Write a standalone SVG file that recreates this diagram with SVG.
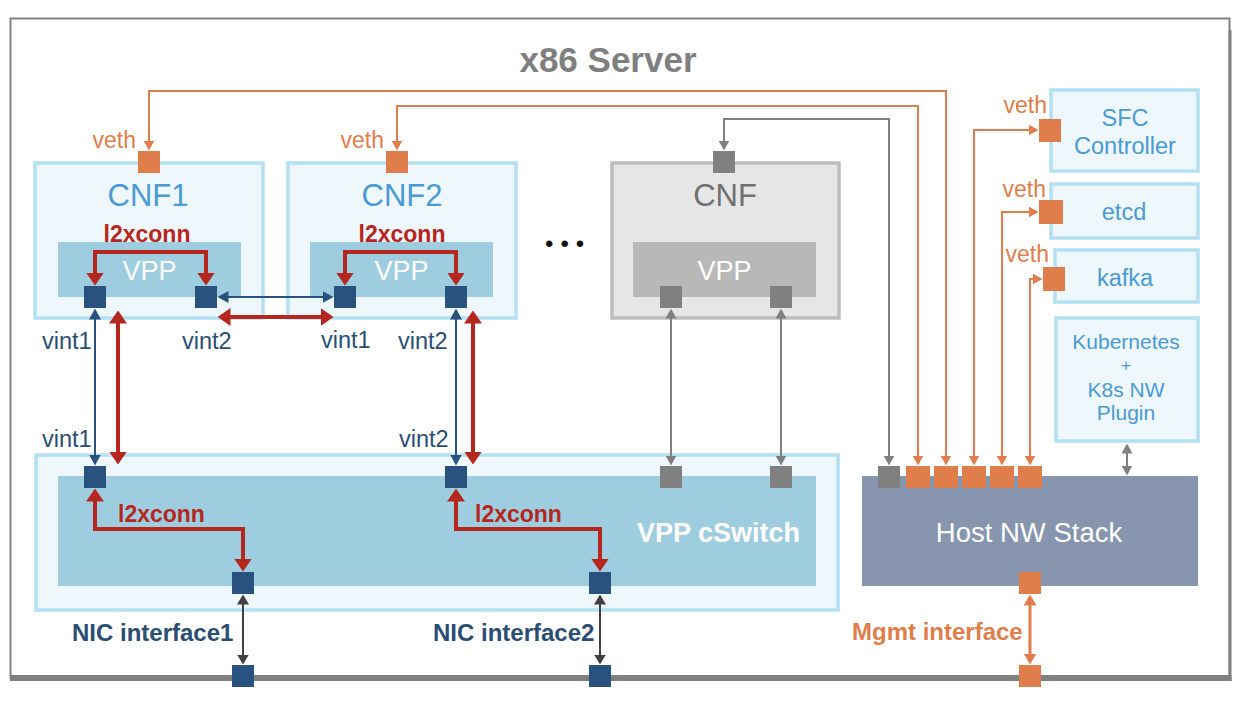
<svg xmlns="http://www.w3.org/2000/svg" width="1250" height="704" viewBox="0 0 1250 704">
<defs>
<style>
.t{font-family:"Liberation Sans",Arial,Helvetica,sans-serif}
.b{font-weight:bold}
.box{fill:#eef7fb;stroke:#b3e0f2;stroke-width:3.5}
.vpp{fill:#9fcde0}
.sqb{fill:#29527e}
.sqo{fill:#e07e4b}
.sqg{fill:#808080}
.cblue{fill:#4a9ad4}
.cdb{fill:#2a4d74}
.cred{fill:#b5261e}
.cor{fill:#e07e4b}
.cw{fill:#ffffff}
.wo{fill:none;stroke:#e07e4b;stroke-width:2}
.wg{fill:none;stroke:#808080;stroke-width:2}
.wb{fill:none;stroke:#29527e;stroke-width:2}
.wr{fill:none;stroke:#b5261e;stroke-width:4}
.wd{fill:none;stroke:#404040;stroke-width:2}
.wm{fill:none;stroke:#e07e4b;stroke-width:3}
</style>
<marker id="mR" viewBox="0 0 13 18" refX="0.5" refY="9" markerWidth="13" markerHeight="18" markerUnits="userSpaceOnUse" orient="auto-start-reverse"><path d="M0,0 L13,9 L0,18 Z" fill="#b5261e"/></marker>
<marker id="mB" viewBox="0 0 11 12" refX="0.5" refY="6" markerWidth="11" markerHeight="12" markerUnits="userSpaceOnUse" orient="auto-start-reverse"><path d="M0,0 L11,6 L0,12 Z" fill="#29527e"/></marker>
<marker id="mG" viewBox="0 0 10 11" refX="0.5" refY="5.5" markerWidth="10" markerHeight="11" markerUnits="userSpaceOnUse" orient="auto-start-reverse"><path d="M0,0 L10,5.5 L0,11 Z" fill="#808080"/></marker>
<marker id="mD" viewBox="0 0 10 12" refX="0.5" refY="6" markerWidth="10" markerHeight="12" markerUnits="userSpaceOnUse" orient="auto-start-reverse"><path d="M0,0 L10,6 L0,12 Z" fill="#404040"/></marker>
<marker id="mO" viewBox="0 0 10 11" refX="0.5" refY="5.5" markerWidth="10" markerHeight="11" markerUnits="userSpaceOnUse" orient="auto-start-reverse"><path d="M0,0 L10,5.5 L0,11 Z" fill="#e07e4b"/></marker>
<marker id="mM" viewBox="0 0 11 13" refX="0.5" refY="6.5" markerWidth="11" markerHeight="13" markerUnits="userSpaceOnUse" orient="auto-start-reverse"><path d="M0,0 L11,6.5 L0,13 Z" fill="#e07e4b"/></marker>
</defs>
<rect width="1250" height="704" fill="#ffffff"/>

<g id="server">
<rect x="10.5" y="18.5" width="1219" height="659" fill="#ffffff" stroke="#808080" stroke-width="2"/>
<line x1="1230" y1="30" x2="1230" y2="681" stroke="#808080" stroke-width="3"/>
<line x1="10" y1="678" x2="1231.5" y2="678" stroke="#808080" stroke-width="6"/>
<text class="t b" x="608" y="72" font-size="35" fill="#7f7f7f" text-anchor="middle">x86 Server</text>
</g>

<g id="cnf1">
<rect class="box" x="35" y="163" width="228" height="155"/>
<rect class="vpp" x="58" y="242" width="183" height="55"/>
<text class="t cblue" x="148" y="206" font-size="31" text-anchor="middle">CNF1</text>
<text class="t cw" x="149.5" y="280" font-size="27" text-anchor="middle">VPP</text>
<text class="t b cred" x="147" y="242" font-size="23" text-anchor="middle">l2xconn</text>
<rect class="sqo" x="138" y="151" width="22" height="22"/>
<text class="t cor" x="136" y="148" font-size="23" text-anchor="end">veth</text>
<rect class="sqb" x="84" y="286" width="22" height="22"/>
<rect class="sqb" x="195" y="286" width="22" height="22"/>
</g>

<g id="cnf2">
<rect class="box" x="288" y="163" width="228" height="155"/>
<rect class="vpp" x="310" y="242" width="183" height="55"/>
<text class="t cblue" x="402" y="206" font-size="31" text-anchor="middle">CNF2</text>
<text class="t cw" x="401.5" y="280" font-size="27" text-anchor="middle">VPP</text>
<text class="t b cred" x="402" y="242" font-size="23" text-anchor="middle">l2xconn</text>
<rect class="sqo" x="386" y="151" width="22" height="22"/>
<text class="t cor" x="384" y="148" font-size="23" text-anchor="end">veth</text>
<rect class="sqb" x="334" y="286" width="22" height="22"/>
<rect class="sqb" x="445" y="286" width="22" height="22"/>
</g>

<g id="dots">
<text class="t" x="545" y="252" font-size="24" letter-spacing="7" fill="#111111">•••</text>
</g>

<g id="cnf">
<rect x="612" y="163" width="227" height="155" fill="#e6e6e6" stroke="#bdbdbd" stroke-width="3.5"/>
<rect x="633" y="242" width="183" height="55" fill="#b8b8b8"/>
<text class="t" x="725" y="206" font-size="31" fill="#707070" text-anchor="middle">CNF</text>
<text class="t cw" x="724.5" y="280" font-size="27" text-anchor="middle">VPP</text>
<rect class="sqg" x="713" y="151" width="22" height="22"/>
<rect class="sqg" x="660" y="286" width="22" height="22"/>
<rect class="sqg" x="770" y="286" width="22" height="22"/>
</g>

<g id="cswitch">
<rect class="box" x="36" y="455" width="802" height="155"/>
<rect class="vpp" x="58" y="476" width="758" height="110"/>
<text class="t b cw" x="637" y="542" font-size="27">VPP cSwitch</text>
<text class="t b cred" x="118" y="522" font-size="23">l2xconn</text>
<text class="t b cred" x="475" y="522" font-size="23">l2xconn</text>
<rect class="sqb" x="84" y="466" width="22" height="22"/>
<rect class="sqb" x="445" y="466" width="22" height="22"/>
<rect class="sqg" x="660" y="466" width="22" height="22"/>
<rect class="sqg" x="770" y="466" width="22" height="22"/>
<rect class="sqb" x="232" y="572" width="22" height="22"/>
<rect class="sqb" x="589" y="572" width="22" height="22"/>
</g>

<g id="nic1">
<rect class="sqb" x="232" y="665" width="22" height="22"/>
<text class="t b cdb" x="72" y="641" font-size="24">NIC interface1</text>
</g>
<g id="nic2">
<rect class="sqb" x="589" y="665" width="22" height="22"/>
<text class="t b cdb" x="433" y="641" font-size="24">NIC interface2</text>
</g>

<g id="host">
<rect x="862" y="476" width="336" height="110" fill="#8796ae"/>
<text class="t cw" x="1029" y="542" font-size="27.5" text-anchor="middle">Host NW Stack</text>
<rect class="sqg" x="878" y="466" width="22" height="22"/>
<rect class="sqo" x="906" y="466" width="24" height="22"/>
<rect class="sqo" x="934" y="466" width="24" height="22"/>
<rect class="sqo" x="962" y="466" width="24" height="22"/>
<rect class="sqo" x="990" y="466" width="24" height="22"/>
<rect class="sqo" x="1018" y="466" width="24" height="22"/>
<rect class="sqo" x="1019" y="572" width="22" height="22"/>
</g>

<g id="mgmt">
<rect class="sqo" x="1019" y="665" width="22" height="22"/>
<text class="t b cor" x="852" y="640" font-size="24">Mgmt interface</text>
</g>

<g id="sfc">
<rect class="box" x="1051" y="90" width="147" height="81"/>
<text class="t cblue" x="1125" y="126" font-size="23.5" text-anchor="middle">SFC</text>
<text class="t cblue" x="1125" y="154" font-size="23.5" text-anchor="middle">Controller</text>
<rect class="sqo" x="1039" y="119" width="22" height="23"/>
<text class="t cor" x="1047" y="113" font-size="23" text-anchor="end">veth</text>
</g>

<g id="etcd">
<rect class="box" x="1051" y="184" width="147" height="54"/>
<text class="t cblue" x="1124" y="220" font-size="23.5" text-anchor="middle">etcd</text>
<rect class="sqo" x="1039" y="200" width="24" height="24"/>
<text class="t cor" x="1046" y="197" font-size="23" text-anchor="end">veth</text>
</g>

<g id="kafka">
<rect class="box" x="1055" y="250" width="143" height="52"/>
<text class="t cblue" x="1125" y="286" font-size="23.5" text-anchor="middle">kafka</text>
<rect class="sqo" x="1043" y="267" width="22" height="24"/>
<text class="t cor" x="1049" y="262" font-size="23" text-anchor="end">veth</text>
</g>

<g id="kubernetes">
<rect class="box" x="1056" y="318" width="142" height="123"/>
<text class="t cblue" x="1126" y="349" font-size="21" text-anchor="middle">Kubernetes</text>
<text class="t cblue" x="1126" y="371" font-size="17" text-anchor="middle">+</text>
<text class="t cblue" x="1126" y="397" font-size="21" text-anchor="middle">K8s NW</text>
<text class="t cblue" x="1126" y="420" font-size="21" text-anchor="middle">Plugin</text>
</g>

<g id="vint-labels">
<text class="t cdb" x="42" y="349" font-size="23.5">vint1</text>
<text class="t cdb" x="182" y="349" font-size="23.5">vint2</text>
<text class="t cdb" x="321" y="348" font-size="23.5">vint1</text>
<text class="t cdb" x="398" y="349" font-size="23.5">vint2</text>
<text class="t cdb" x="42" y="447" font-size="23.5">vint1</text>
<text class="t cdb" x="399" y="447" font-size="23.5">vint2</text>
</g>

<g id="connectors">
<path class="wo" d="M946,456 V91 H149 V141" marker-start="url(#mO)" marker-end="url(#mO)"/>
<path class="wo" d="M918,456 V106 H397 V141" marker-start="url(#mO)" marker-end="url(#mO)"/>
<path class="wg" d="M889,456 V119 H724 V141" marker-start="url(#mG)" marker-end="url(#mG)"/>
<path class="wo" d="M974,456 V130 H1029" marker-start="url(#mO)" marker-end="url(#mO)"/>
<path class="wo" d="M1002,456 V212 H1029" marker-start="url(#mO)" marker-end="url(#mO)"/>
<path class="wo" d="M1030,456 V279 H1033" marker-start="url(#mO)" marker-end="url(#mO)"/>
<path class="wg" d="M1127,453 V466" marker-start="url(#mG)" marker-end="url(#mG)"/>

<path class="wr" d="M95,273 V252 H206 V273" marker-start="url(#mR)" marker-end="url(#mR)"/>
<path class="wr" d="M345,273 V252 H456 V273" marker-start="url(#mR)" marker-end="url(#mR)"/>
<path class="wb" d="M228,297 H323" marker-start="url(#mB)" marker-end="url(#mB)"/>
<path class="wr" d="M230,317 H321" marker-start="url(#mR)" marker-end="url(#mR)"/>

<path class="wb" d="M95,319 V455" marker-start="url(#mB)" marker-end="url(#mB)"/>
<path class="wr" d="M118,323 V452" marker-start="url(#mR)" marker-end="url(#mR)"/>
<path class="wb" d="M456,319 V455" marker-start="url(#mB)" marker-end="url(#mB)"/>
<path class="wr" d="M473,323 V452" marker-start="url(#mR)" marker-end="url(#mR)"/>
<path class="wg" d="M671,318 V456" marker-start="url(#mG)" marker-end="url(#mG)"/>
<path class="wg" d="M781,318 V456" marker-start="url(#mG)" marker-end="url(#mG)"/>

<path class="wr" d="M95,501 V529 H243 V559" marker-start="url(#mR)" marker-end="url(#mR)"/>
<path class="wr" d="M456,501 V529 H600 V559" marker-start="url(#mR)" marker-end="url(#mR)"/>

<path class="wd" d="M243,604 V655" marker-start="url(#mD)" marker-end="url(#mD)"/>
<path class="wd" d="M600,604 V655" marker-start="url(#mD)" marker-end="url(#mD)"/>
<path class="wm" d="M1030,605 V654" marker-start="url(#mM)" marker-end="url(#mM)"/>
</g>
</svg>
